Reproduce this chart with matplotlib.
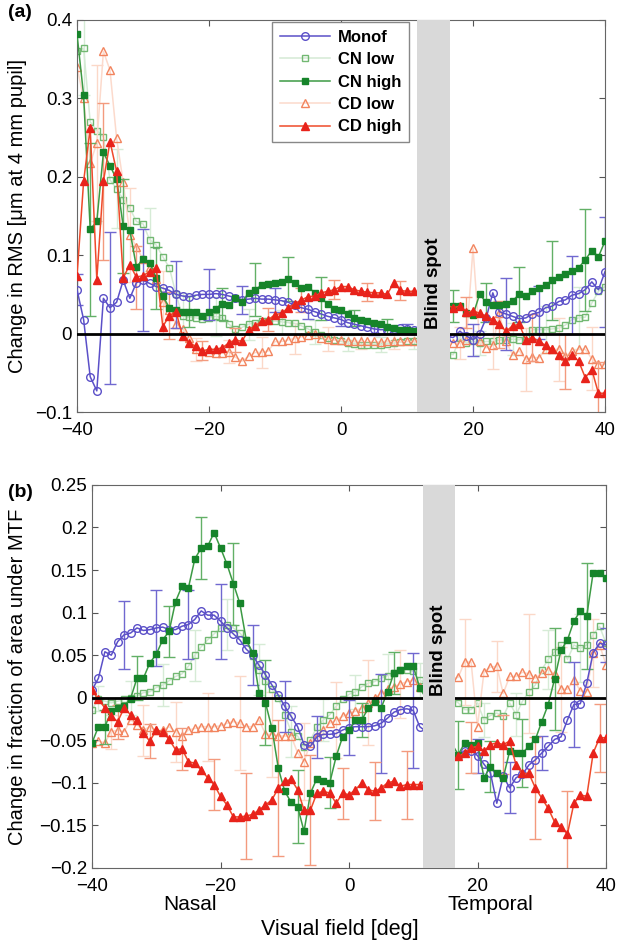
import matplotlib
matplotlib.use('Agg')
import matplotlib.pyplot as plt

plt.rcParams['font.family'] = ['Liberation Sans', 'DejaVu Sans']

# visual field positions (deg); the blind spot (12..16) has no samples
x_deg = list(range(-40, 12)) + list(range(17, 41))
series_names = ['Monof', 'CN low', 'CN high', 'CD low', 'CD high']

# ---- panel (a): change in RMS ----
monof_a = [0.056, 0.018, -0.055, -0.073, 0.045, 0.033, 0.040, 0.068, 0.045, 0.065,
           0.068, 0.064, 0.060, 0.058, 0.055, 0.050, 0.048, 0.047, 0.049, 0.050,
           0.050, 0.051, 0.050, 0.048, 0.046, 0.043, 0.044, 0.045, 0.044, 0.044,
           0.043, 0.042, 0.040, 0.036, 0.033, 0.031, 0.028, 0.025, 0.022, 0.020,
           0.018, 0.014, 0.012, 0.010, 0.008, 0.006, 0.005, 0.005, 0.006, 0.007,
           0.006, 0.005,
           -0.005, 0.003, -0.003, -0.008, 0.000, 0.020, 0.052, 0.028, 0.025, 0.022,
           0.019, 0.020, 0.025, 0.027, 0.033, 0.035, 0.041, 0.043, 0.049, 0.051,
           0.056, 0.066, 0.056, 0.079]
cnlow_a = [0.360, 0.364, 0.270, 0.259, 0.251, 0.196, 0.185, 0.171, 0.160, 0.143,
           0.140, 0.120, 0.113, 0.098, 0.084, 0.050, 0.022, 0.021, 0.020, 0.019,
           0.020, 0.022, 0.020, 0.012, 0.006, 0.008, 0.012, 0.014, 0.016, 0.016,
           0.016, 0.015, 0.014, 0.013, 0.010, 0.006, 0.002, -0.002, -0.006, -0.008,
           -0.010, -0.012, -0.013, -0.014, -0.014, -0.014, -0.014, -0.013, -0.012, -0.011,
           -0.010, -0.010,
           -0.027, -0.005, -0.012, -0.010, -0.012, -0.010, -0.010, -0.008, -0.008, -0.007,
           -0.008, -0.004, 0.005, 0.005, 0.005, 0.006, 0.007, 0.011, 0.018, 0.020,
           0.021, 0.039, 0.054, 0.060]
cnhigh_a = [0.382, 0.304, 0.133, 0.143, 0.231, 0.214, 0.197, 0.137, 0.132, 0.085,
            0.095, 0.090, 0.071, 0.048, 0.033, 0.030, 0.028, 0.028, 0.028, 0.022,
            0.028, 0.032, 0.038, 0.036, 0.045, 0.040, 0.052, 0.056, 0.062, 0.063,
            0.065, 0.066, 0.070, 0.064, 0.058, 0.060, 0.052, 0.045, 0.038, 0.032,
            0.030, 0.025, 0.020, 0.018, 0.016, 0.014, 0.012, 0.009, 0.007, 0.005,
            0.005, 0.003,
            0.035, 0.035, 0.026, 0.024, 0.050, 0.040, 0.036, 0.037, 0.038, 0.042,
            0.050, 0.048, 0.054, 0.058, 0.062, 0.068, 0.072, 0.076, 0.080, 0.084,
            0.094, 0.106, 0.098, 0.118]
cdlow_a = [0.340, 0.300, 0.217, 0.243, 0.360, 0.336, 0.249, 0.193, 0.126, 0.110,
           0.095, 0.085, 0.070, 0.040, 0.030, 0.012, 0.006, -0.005, -0.020, -0.022,
           -0.024, -0.025, -0.025, -0.023, -0.030, -0.035, -0.029, -0.024, -0.024, -0.022,
           -0.010, -0.010, -0.008, -0.006, -0.004, -0.002, -0.001, -0.005, -0.007, -0.008,
           -0.008, -0.009, -0.010, -0.010, -0.010, -0.010, -0.011, -0.010, -0.010, -0.010,
           -0.010, -0.010,
           -0.012, -0.012, -0.008, 0.109, -0.010, -0.018, -0.015, 0.026, -0.010, -0.027,
           -0.022, -0.033, -0.030, -0.031, -0.020, -0.020, -0.020, -0.029, -0.022, -0.020,
           -0.020, -0.032, -0.039, -0.039]
cdhigh_a = [0.073, 0.194, 0.262, 0.069, 0.194, 0.245, 0.207, 0.071, 0.088, 0.072,
            0.074, 0.079, 0.084, 0.009, 0.023, 0.028, -0.003, -0.012, -0.016, -0.022,
            -0.020, -0.020, -0.018, -0.012, -0.008, -0.010, 0.005, 0.010, 0.016, 0.018,
            0.024, 0.026, 0.033, 0.038, 0.043, 0.047, 0.048, 0.052, 0.054, 0.056,
            0.060, 0.060, 0.056, 0.054, 0.053, 0.052, 0.052, 0.050, 0.065, 0.055,
            0.054, 0.054,
            0.033, 0.035, 0.027, 0.029, 0.026, 0.022, 0.018, 0.012, 0.003, 0.010,
            0.012, -0.008, -0.005, -0.010, -0.015, -0.020, -0.027, -0.035, -0.027, -0.035,
            -0.056, -0.046, -0.076, -0.076]

# error bars (positions and half-lengths)
monof_ex = [-40, -35, -30, -25, -20, -15, -10, -5, 0, 5, 10, 20, 25, 30, 35, 40]
cnlow_ex = [-39, -34, -29, -24, -19, -14, -9, -4, 1, 6, 11, 21, 26, 31, 36]
cnhigh_ex = [-38, -33, -28, -23, -18, -13, -8, -3, 2, 7, 17, 22, 27, 32, 37]
cdlow_ex = [-37, -32, -27, -22, -17, -12, -7, -2, 3, 8, 18, 23, 28, 33, 38]
cdhigh_ex = [-36, -31, -26, -21, -16, -11, -6, -1, 4, 9, 19, 24, 29, 34, 39]

monof_a_e = [0.02, 0.097, 0.065, 0.043, 0.032, 0.018, 0.015, 0.012, 0.008, 0.008, 0.006,
             0.02, 0.046, 0.034, 0.05, 0.07]
cnlow_a_e = [0.06, 0.05, 0.04, 0.03, 0.025, 0.02, 0.015, 0.015, 0.01, 0.01, 0.01,
             0.015, 0.02, 0.03, 0.04]
cnhigh_a_e = [0.11, 0.06, 0.04, 0.02, 0.02, 0.034, 0.028, 0.027, 0.01, 0.01,
              0.02, 0.025, 0.035, 0.05, 0.065]
cdlow_a_e = [0.1, 0.06, 0.04, 0.015, 0.015, 0.02, 0.02, 0.015, 0.01, 0.01,
             0.02, 0.03, 0.04, 0.04, 0.04]
cdhigh_a_e = [0.1, 0.04, 0.03, 0.012, 0.015, 0.015, 0.015, 0.012, 0.012, 0.012,
              0.02, 0.03, 0.03, 0.035, 0.04]

# ---- panel (b): change in fraction of area under MTF ----
monof_b = [0.009, 0.023, 0.054, 0.050, 0.066, 0.074, 0.076, 0.082, 0.079, 0.080,
           0.082, 0.083, 0.080, 0.080, 0.084, 0.086, 0.092, 0.102, 0.097, 0.097,
           0.090, 0.082, 0.075, 0.068, 0.057, 0.050, 0.038, 0.027, 0.015, 0.003,
           -0.010, -0.022, -0.034, -0.055, -0.057, -0.046, -0.043, -0.043, -0.042, -0.038,
           -0.035, -0.034, -0.034, -0.034, -0.033, -0.030, -0.024, -0.017, -0.014, -0.013,
           -0.015, -0.034,
           -0.068, -0.062, -0.062, -0.068, -0.078, -0.088, -0.124, -0.092, -0.106, -0.094,
           -0.090, -0.079, -0.073, -0.065, -0.057, -0.049, -0.046, -0.026, -0.008, -0.007,
           0.017, 0.053, 0.064, 0.062]
cnlow_b = [-0.014, -0.001, -0.004, -0.006, -0.004, -0.002, 0.000, 0.002, 0.006, 0.007,
           0.012, 0.015, 0.020, 0.025, 0.028, 0.037, 0.050, 0.060, 0.068, 0.075,
           0.082, 0.086, 0.082, 0.076, 0.068, 0.049, 0.033, 0.020, 0.010, 0.000,
           -0.020, -0.040, -0.045, -0.058, -0.050, -0.034, -0.026, -0.020, -0.010, -0.002,
           0.004, 0.007, 0.013, 0.017, 0.019, 0.023, 0.026, 0.029, 0.033, 0.033,
           0.031, 0.021,
           -0.006, -0.014, -0.014, -0.006, -0.026, -0.021, -0.018, -0.022, -0.006, -0.020,
           -0.004, 0.007, 0.015, 0.033, 0.045, 0.054, 0.062, 0.045, 0.062, 0.058,
           0.062, 0.074, 0.084, 0.064]
cnhigh_b = [-0.053, -0.034, -0.034, -0.016, -0.012, -0.010, -0.001, 0.023, 0.023, 0.041,
            0.051, 0.068, 0.078, 0.113, 0.131, 0.129, 0.163, 0.176, 0.178, 0.194,
            0.176, 0.157, 0.134, 0.111, 0.068, 0.053, 0.006, -0.006, -0.036, -0.083,
            -0.110, -0.123, -0.128, -0.157, -0.112, -0.095, -0.098, -0.100, -0.069, -0.046,
            -0.038, -0.026, -0.026, -0.012, -0.005, -0.012, 0.007, 0.029, 0.033, 0.037,
            0.037, 0.012,
            -0.067, -0.053, -0.056, -0.053, -0.094, -0.081, -0.089, -0.094, -0.063, -0.065,
            -0.065, -0.057, -0.049, -0.028, -0.008, 0.022, 0.056, 0.068, 0.090, 0.102,
            0.096, 0.147, 0.147, 0.141]
cdlow_b = [-0.053, -0.051, -0.053, -0.040, -0.038, -0.040, -0.026, -0.032, -0.038, -0.034,
           -0.038, -0.038, -0.034, -0.040, -0.045, -0.038, -0.036, -0.034, -0.034, -0.034,
           -0.033, -0.030, -0.028, -0.030, -0.034, -0.034, -0.026, -0.043, -0.043, -0.045,
           -0.045, -0.045, -0.065, -0.075, -0.053, -0.045, -0.038, -0.030, -0.026, -0.022,
           -0.018, -0.016, -0.012, -0.006, 0.000, 0.005, 0.010, 0.013, 0.016, 0.019,
           0.021, 0.013,
           0.024, 0.042, 0.042, -0.034, 0.030, 0.036, 0.037, 0.005, 0.025, 0.025,
           0.030, 0.028, 0.023, 0.029, 0.033, 0.028, 0.010, 0.010, 0.021, 0.008,
           0.007, 0.053, 0.062, 0.039]
cdhigh_b = [0.009, -0.002, -0.012, -0.022, -0.028, -0.012, -0.020, -0.026, -0.042, -0.051,
            -0.038, -0.040, -0.049, -0.061, -0.060, -0.075, -0.077, -0.085, -0.094, -0.102,
            -0.116, -0.126, -0.140, -0.140, -0.139, -0.137, -0.132, -0.126, -0.120, -0.106,
            -0.098, -0.096, -0.108, -0.132, -0.132, -0.112, -0.110, -0.112, -0.124, -0.112,
            -0.114, -0.108, -0.100, -0.108, -0.110, -0.106, -0.100, -0.098, -0.104, -0.102,
            -0.102, -0.102,
            -0.069, -0.065, -0.059, -0.057, -0.063, -0.055, -0.053, -0.055, -0.051, -0.079,
            -0.089, -0.089, -0.106, -0.118, -0.130, -0.146, -0.152, -0.160, -0.124, -0.114,
            -0.116, -0.065, -0.047, -0.047]

monof_b_e = [0.01, 0.04, 0.045, 0.04, 0.044, 0.035, 0.03, 0.025, 0.032, 0.058, 0.068,
             0.02, 0.03, 0.02, 0.05, 0.02]
cnlow_b_e = [0.015, 0.02, 0.025, 0.03, 0.03, 0.03, 0.03, 0.025, 0.02, 0.025, 0.02,
             0.02, 0.025, 0.035, 0.04]
cnhigh_b_e = [0.02, 0.026, 0.03, 0.036, 0.048, 0.05, 0.043, 0.03, 0.02, 0.025,
              0.04, 0.03, 0.04, 0.06, 0.062]
cdlow_b_e = [0.02, 0.03, 0.035, 0.04, 0.055, 0.05, 0.045, 0.045, 0.05, 0.04,
             0.05, 0.03, 0.07, 0.05, 0.04]
cdhigh_b_e = [0.02, 0.02, 0.025, 0.03, 0.05, 0.08, 0.065, 0.03, 0.034, 0.04,
              0.03, 0.035, 0.06, 0.05, 0.04]

# line colour, marker, face, edge, size, errorbar colour, zorder
styles = {
    'Monof':   ('#5b50c8', 'o', 'none', '#5b50c8', 5.5, '#7068d0', 3),
    'CN low':  ('#d4ead4', 's', 'none', '#72b872', 5.0, '#d6ebd6', 1),
    'CN high': ('#3c9a44', 's', '#16842a', '#16842a', 4.5, '#62b066', 3),
    'CD low':  ('#fcdacc', '^', 'none', '#f2845e', 5.5, '#fbd8c8', 1),
    'CD high': ('#ef4a2a', '^', '#e8231b', '#e8231b', 5.5, '#f39a7e', 3),
}

fig = plt.figure(figsize=(6.18, 9.42), dpi=100)
ax_a = fig.add_axes([0.1246, 0.5626, 0.8544, 0.4162])
ax_b = fig.add_axes([0.1489, 0.0786, 0.8317, 0.4066])


def draw(ax, data, errs):
    handles = []
    for name, y, (ex, e) in zip(series_names, data, errs):
        lc, mk, mf, me, ms, ec, z = styles[name]
        ey = [y[x_deg.index(v)] for v in ex]
        ax.errorbar(ex, ey, yerr=e, fmt='none', ecolor=ec, elinewidth=1,
                    capsize=4, zorder=z - 0.5)
        h, = ax.plot(x_deg, y, color=lc, lw=1.1, marker=mk, mfc=mf, mec=me,
                     ms=ms, mew=1.0, zorder=z, label=name)
        handles.append(h)
    ax.axhline(0, color='black', lw=2, zorder=4)
    ax.axvspan(11.5, 16.5, color='#d9d9d9', lw=0, zorder=5)
    ax.set_xlim(-40, 40)
    ax.set_xticks([-40, -20, 0, 20, 40])
    ax.set_xticklabels(['\u221240', '\u221220', '0', '20', '40'])
    ax.tick_params(direction='in', top=True, right=True, length=4,
                   labelsize=13.5, color='#555555')
    ax.tick_params(axis='x', pad=7.5)
    for s in ax.spines.values():
        s.set_color('#666666')
    return handles


h = draw(ax_a, [monof_a, cnlow_a, cnhigh_a, cdlow_a, cdhigh_a],
         [(monof_ex, monof_a_e), (cnlow_ex, cnlow_a_e), (cnhigh_ex, cnhigh_a_e),
          (cdlow_ex, cdlow_a_e), (cdhigh_ex, cdhigh_a_e)])
draw(ax_b, [monof_b, cnlow_b, cnhigh_b, cdlow_b, cdhigh_b],
     [(monof_ex, monof_b_e), (cnlow_ex, cnlow_b_e), (cnhigh_ex, cnhigh_b_e),
      (cdlow_ex, cdlow_b_e), (cdhigh_ex, cdhigh_b_e)])

ax_a.set_ylim(-0.1, 0.4)
ax_a.set_yticks([-0.1, 0, 0.1, 0.2, 0.3, 0.4])
ax_a.set_yticklabels(['\u22120.1', '0', '0.1', '0.2', '0.3', '0.4'])
ax_b.set_ylim(-0.2, 0.25)
ax_b.set_yticks([-0.2, -0.15, -0.1, -0.05, 0, 0.05, 0.1, 0.15, 0.2, 0.25])
ax_b.set_yticklabels(['\u22120.2', '\u22120.15', '\u22120.1', '\u22120.05', '0',
                      '0.05', '0.1', '0.15', '0.2', '0.25'])

ax_a.text(14, 0.064, 'Blind spot', rotation=90, ha='center', va='center',
          fontsize=13.5, fontweight='bold', zorder=6)
ax_b.text(14, 0.056, 'Blind spot', rotation=90, ha='center', va='center',
          fontsize=13.5, fontweight='bold', zorder=6)

leg = ax_a.legend(handles=h, loc='upper left', bbox_to_anchor=(272 / 618, 1 - 22 / 942),
                  bbox_transform=fig.transFigure, prop={'weight': 'bold', 'size': 12},
                  handlelength=3.0, labelspacing=0.45, borderpad=0.45, borderaxespad=0,
                  handletextpad=0.5, fancybox=False, framealpha=1, edgecolor='#888888')
leg.set_zorder(10)

fig.text(0.029, 0.771, 'Change in RMS [\u03bcm at 4 mm pupil]', rotation=90,
         ha='center', va='center', fontsize=14.5)
fig.text(0.029, 0.282, 'Change in fraction of area under MTF', rotation=90,
         ha='center', va='center', fontsize=14.5)
fig.text(0.013, 0.987, '(a)', fontsize=14, fontweight='bold', va='center')
fig.text(0.013, 0.477, '(b)', fontsize=14, fontweight='bold', va='center')
fig.text(190 / 618, 1 - 904 / 942, 'Nasal', ha='center', va='center', fontsize=15)
fig.text(490 / 618, 1 - 904 / 942, 'Temporal', ha='center', va='center', fontsize=15)
fig.text(340 / 618, 1 - 929 / 942, 'Visual field [deg]', ha='center', va='center',
         fontsize=15.5)

fig.savefig('out.png', dpi=100)
